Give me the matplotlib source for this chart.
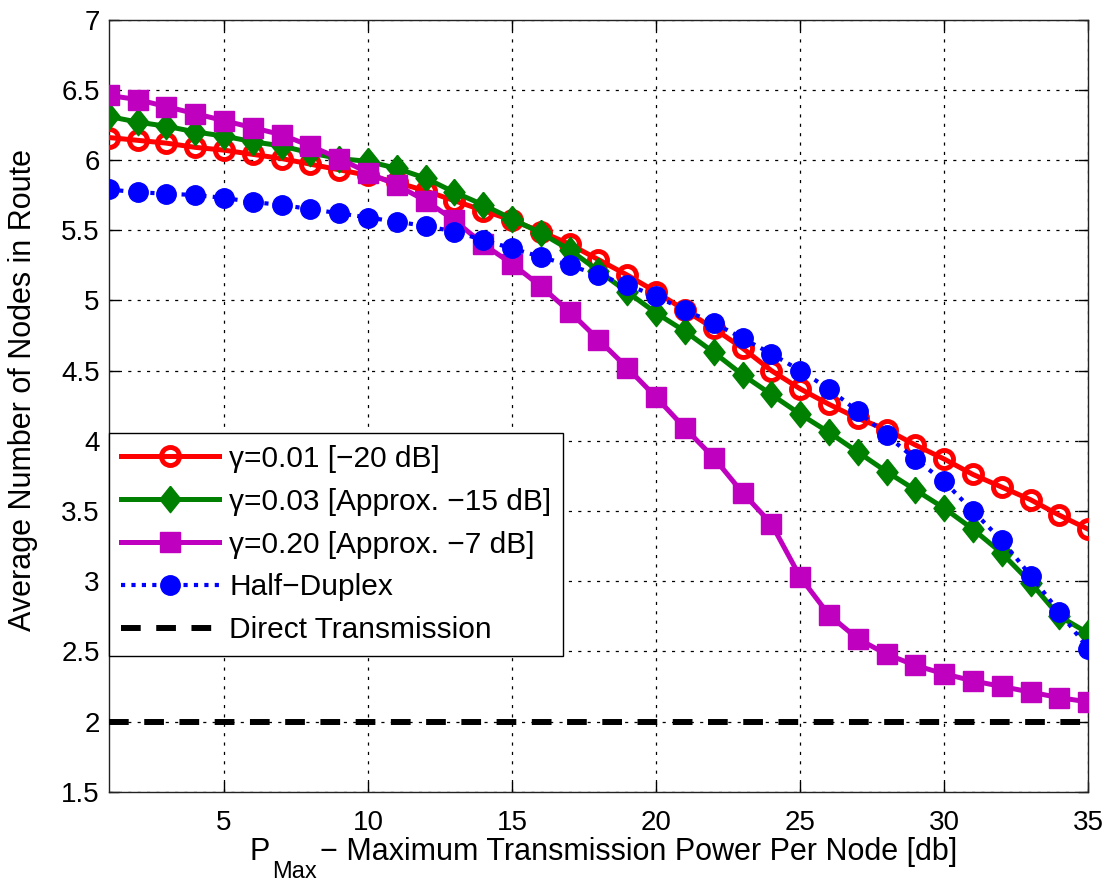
import matplotlib
matplotlib.use("Agg")
import matplotlib.pyplot as plt

plt.rcParams['font.family'] = ['Liberation Sans', 'DejaVu Sans']

p_max = list(range(1, 36))

gamma_001 = [6.16, 6.14, 6.12, 6.09, 6.07, 6.04, 6.01, 5.97, 5.93, 5.89,
             5.84, 5.78, 5.71, 5.64, 5.57, 5.49, 5.40, 5.29, 5.18, 5.06,
             4.93, 4.80, 4.66, 4.50, 4.37, 4.26, 4.16, 4.08, 3.97, 3.87,
             3.76, 3.67, 3.58, 3.47, 3.37]
gamma_003 = [6.31, 6.27, 6.24, 6.20, 6.17, 6.13, 6.10, 6.05, 6.01, 5.99,
             5.94, 5.87, 5.77, 5.68, 5.58, 5.48, 5.36, 5.21, 5.06, 4.91,
             4.78, 4.63, 4.47, 4.33, 4.19, 4.06, 3.92, 3.78, 3.65, 3.52,
             3.37, 3.20, 2.99, 2.75, 2.63]
gamma_020 = [6.46, 6.43, 6.38, 6.33, 6.28, 6.23, 6.18, 6.10, 6.01, 5.91,
             5.82, 5.71, 5.57, 5.40, 5.26, 5.10, 4.92, 4.72, 4.52, 4.31,
             4.09, 3.88, 3.63, 3.41, 3.03, 2.76, 2.59, 2.48, 2.40, 2.34,
             2.29, 2.25, 2.21, 2.17, 2.14]
half_duplex = [5.79, 5.77, 5.76, 5.75, 5.73, 5.70, 5.68, 5.65, 5.62, 5.59,
               5.56, 5.53, 5.49, 5.43, 5.37, 5.31, 5.25, 5.18, 5.11, 5.03,
               4.93, 4.84, 4.73, 4.62, 4.50, 4.37, 4.21, 4.04, 3.87, 3.71,
               3.50, 3.29, 3.04, 2.78, 2.52]
direct = [2.0] * 35

labels = ['γ=0.01 [−20 dB]', 'γ=0.03 [Approx. −15 dB]', 'γ=0.20 [Approx. −7 dB]',
          'Half−Duplex', 'Direct Transmission']
x_ticks = [5, 10, 15, 20, 25, 30, 35]
y_ticks = [1.5, 2, 2.5, 3, 3.5, 4, 4.5, 5, 5.5, 6, 6.5, 7]
y_ticklabels = ['1.5', '2', '2.5', '3', '3.5', '4', '4.5', '5', '5.5', '6', '6.5', '7']

fig = plt.figure(figsize=(11.07, 8.82), dpi=100)
ax = fig.add_axes([0.0983, 0.1023, 0.8847, 0.8755])

diamond = [(0, 1), (0.8, 0), (0, -1), (-0.8, 0), (0, 1)]

ax.plot(p_max, gamma_001, color='#ff0000', lw=3.6, marker='o', ms=13,
        mfc='none', mec='#ff0000', mew=3.5, label=labels[0], zorder=3)
ax.plot(p_max, gamma_003, color='#008000', lw=3.6, marker=diamond, ms=19,
        mfc='#008000', mec='#008000', mew=1.0, label=labels[1], zorder=4)
ax.plot(p_max, gamma_020, color='#bf00bf', lw=3.6, marker='s', ms=15,
        mfc='#bf00bf', mec='#bf00bf', mew=1.0, label=labels[2], zorder=5)
ax.plot(p_max, half_duplex, color='#0000ff', lw=3.0, ls=(0, (1, 1.5)),
        marker='o', ms=14, mfc='#0000ff', mec='#0000ff', mew=1.0,
        label=labels[3], zorder=6)
ax.plot(p_max, direct, color='black', lw=4.3, ls=(0, (3.3, 2.6)),
        label=labels[4], zorder=7)

ax.set_xlim(1, 35)
ax.set_ylim(1.5, 7)
ax.set_xticks(x_ticks)
ax.set_yticks(y_ticks)
ax.set_yticklabels(y_ticklabels)

ax.grid(True, color='black', lw=0.9, ls=(0, (2.5, 5)))
ax.set_axisbelow(True)
ax.tick_params(direction='in', length=7, width=1.0, labelsize=20,
               top=True, right=True)
ax.tick_params(axis='x', pad=13)
ax.tick_params(axis='y', pad=6.5)
for s in ax.spines.values():
    s.set_linewidth(1.0)
    s.set_color('#222222')

# x-axis label: P with a large, low "Max" subscript
base_y = (882 - 860) / 882
fig.text(250 / 1107, base_y, 'P', fontsize=22, ha='left', va='baseline')
fig.text(272 / 1107, (882 - 878) / 882, 'Max', fontsize=17, ha='left', va='baseline')
fig.text(320 / 1107, base_y, '− Maximum Transmission Power Per Node [db]',
         fontsize=22, ha='left', va='baseline')

ax.set_ylabel('Average Number of Nodes in Route', fontsize=22)
ax.yaxis.set_label_coords(-0.072, 0.52)

leg = ax.legend(loc='upper left', bbox_to_anchor=(0.0, 0.465), borderaxespad=0,
                fontsize=21.5, handlelength=3.3, handletextpad=0.33,
                labelspacing=0.5, borderpad=0.4, fancybox=False,
                framealpha=1, edgecolor='black')
leg.get_frame().set_linewidth(1.0)
leg.set_zorder(10)

fig.savefig('out.png', dpi=100)
